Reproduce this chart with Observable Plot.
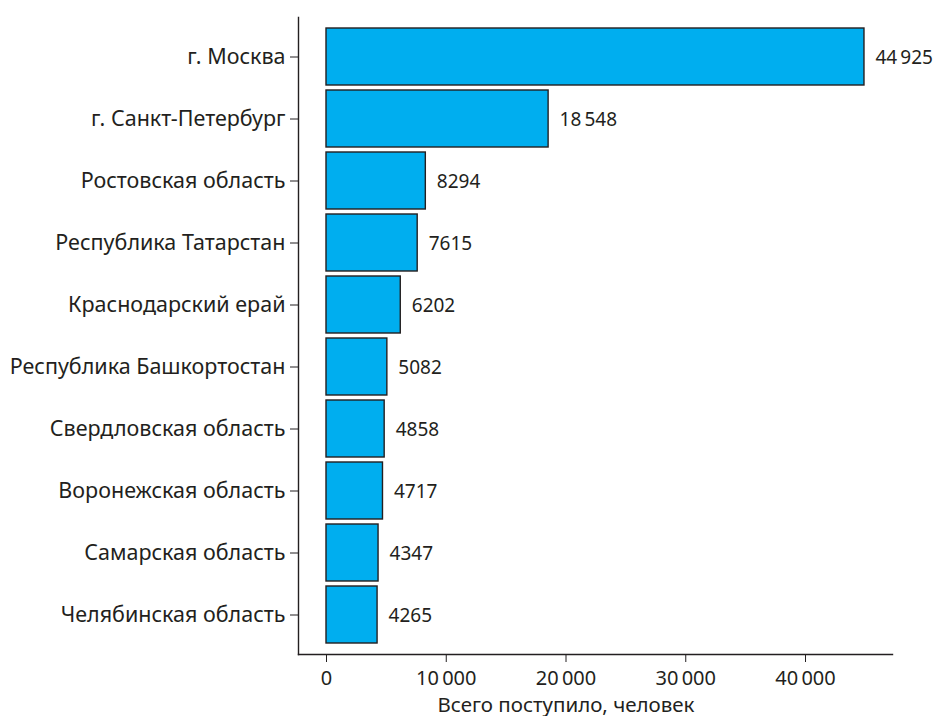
<!DOCTYPE html>
<html>
<head>
<meta charset="utf-8">
<script src="https://cdn.jsdelivr.net/npm/d3@7"></script>
<script src="https://cdn.jsdelivr.net/npm/@observablehq/plot@0.6"></script>
<style>
  html, body { margin: 0; padding: 0; background: #fff; }
  svg { font-family: "Noto Sans", sans-serif; }
</style>
</head>
<body>
<div id="chart"></div>
<script>
const regions = [
  "г. Москва",
  "г. Санкт-Петербург",
  "Ростовская область",
  "Республика Татарстан",
  "Краснодарский ерай",
  "Республика Башкортостан",
  "Свердловская область",
  "Воронежская область",
  "Самарская область",
  "Челябинская область"
];
const admitted = [44925, 18548, 8294, 7615, 6202, 5082, 4858, 4717, 4347, 4265];
const xTicks = [0, 10000, 20000, 30000, 40000];
const xLabel = "Всего поступило, человек";

const data = regions.map((r, i) => ({region: r, value: admitted[i]}));

function fmt(v) {
  const s = String(Math.round(v));
  if (v < 10000) return s;
  return s.replace(/\B(?=(\d{3})+(?!\d))/g, "\u2009");
}

const ink = "#231F20";

const chart = Plot.plot({
  width: 936,
  height: 716,
  marginLeft: 298,
  marginRight: 44,
  marginTop: 17,
  marginBottom: 62,
  style: {fontSize: "20px", color: ink, fontFamily: "'Noto Sans', sans-serif"},
  x: {domain: [0, 40000], range: [326, 805], axis: null},
  y: {domain: regions, range: [26, 645], paddingInner: 0.087, paddingOuter: 0, axis: null},
  marks: [
    Plot.barX(data, {x: "value", y: "region", fill: "#00AEEF", stroke: ink, strokeWidth: 1.4}),
    Plot.text(data, {x: "value", y: "region", text: d => fmt(d.value), textAnchor: "start", dx: 11, dy: 1, fill: ink, fontSize: 19}),
    Plot.axisY({anchor: "left", tickSize: 8, tickPadding: 5, stroke: ink, fill: ink, fontSize: 21.5, label: null}),
    Plot.axisX({anchor: "bottom", ticks: xTicks, tickSize: 8, tickPadding: 8, tickFormat: fmt, stroke: ink, fill: ink, fontSize: 20, label: null}),
    Plot.frame({anchor: "left", stroke: ink, strokeWidth: 1.4}),
    Plot.frame({anchor: "bottom", stroke: ink, strokeWidth: 1.4}),
    Plot.text([xLabel], {x: () => 20000, text: d => d, frameAnchor: "bottom", dy: 57, fill: ink, fontSize: 20.5})
  ]
});
document.getElementById("chart").appendChild(chart);
</script>
</body>
</html>
